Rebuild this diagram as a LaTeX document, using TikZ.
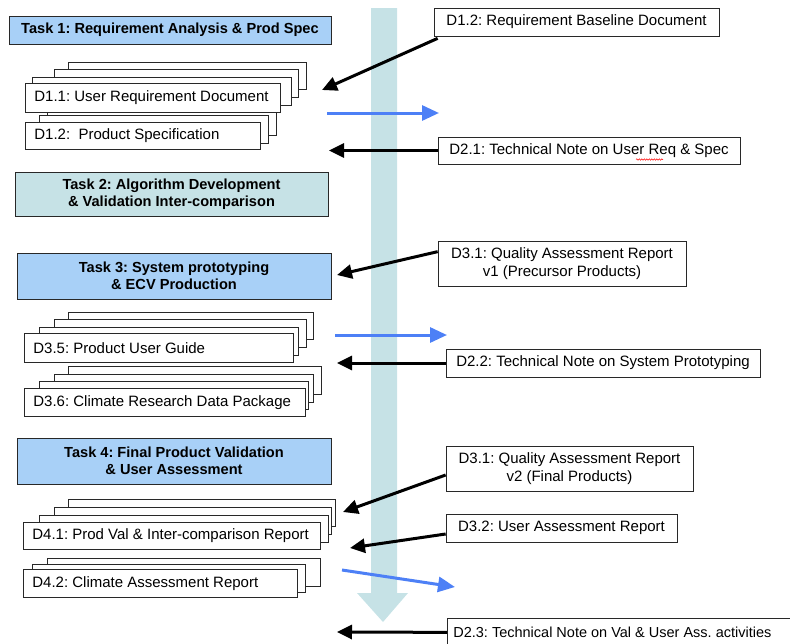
\documentclass[tikz,border=0pt]{standalone}
\usepackage{fontspec}
\setmainfont{Liberation Sans}
\usetikzlibrary{arrows.meta,decorations.pathmorphing}
\definecolor{band}{RGB}{198,226,230}
\definecolor{tasklb}{RGB}{168,208,247}
\definecolor{taskteal}{RGB}{198,226,230}
\definecolor{bluearr}{RGB}{77,128,246}
\definecolor{edge}{RGB}{40,40,40}
\frenchspacing
\begin{document}
\begin{tikzpicture}[x=1pt,y=-1pt,
  task/.style={draw=edge, line width=0.9pt, font=\fontsize{14.6}{17}\selectfont\bfseries, align=center, inner sep=0pt},
  back/.style={draw=edge, fill=white, line width=0.7pt},
  docbox/.style={draw=edge, fill=white, line width=0.7pt, anchor=north west, inner xsep=9pt, inner ysep=0pt, font=\fontsize{15}{17}\selectfont},
  note/.style={draw=edge, fill=white, line width=0.7pt, align=center, inner sep=0pt, font=\fontsize{15}{17.5}\selectfont},
  blk/.style={line width=3pt, -{Triangle[length=15pt,width=14pt]}},
  blu/.style={draw=bluearr, line width=3pt, -{Triangle[length=17pt,width=15pt]}}]
\useasboundingbox (0,0) rectangle (790,643);
% background timeline band
\fill[band] (371,8) -- (397,8) -- (397,593) -- (408,593) -- (383,622) -- (357,593) -- (371,593) -- cycle;
% Tasks
\node[task, fill=tasklb, minimum width=322pt, minimum height=28pt] (t1) at (170,30) {Task 1: Requirement Analysis \& Prod Spec};
\node[task, fill=taskteal, minimum width=313pt, minimum height=44pt] (t2) at (171.5,194) {Task 2: Algorithm Development\\\& Validation Inter-comparison};
\node[task, fill=tasklb, minimum width=314pt, minimum height=46pt] (t3) at (174,276) {Task 3: System prototyping\\\& ECV Production};
\node[task, fill=tasklb, minimum width=314pt, minimum height=46pt] (t4) at (174,461) {Task 4: Final Product Validation\\\& User Assessment};
% D1 stacks
\draw[back] (68,62) rectangle (306,89);
\draw[back] (54,69) rectangle (298,97);
\draw[back] (32,77) rectangle (291,105);
\draw[back] (47,107) rectangle (276,135);
\draw[back] (39,115) rectangle (268,143);
\node[docbox, minimum height=29pt] (d11) at (25,83) {\makebox[237pt][l]{D1.1: User Requirement Document}};
\node[docbox, minimum height=27pt] (d12) at (25,122) {\makebox[217pt][l]{D1.2:\ \ Product Specification}};
% D3 stacks
\draw[back] (68,312) rectangle (313,339);
\draw[back] (54,319) rectangle (306,347);
\draw[back] (39,327) rectangle (298,355);
\node[docbox, minimum height=29pt] (d35) at (24,333) {\makebox[251pt][l]{D3.5: Product User Guide}};
\draw[back] (68,366) rectangle (321,394);
\draw[back] (54,374) rectangle (313,402);
\draw[back] (39,381) rectangle (308,409);
\node[docbox, minimum height=28pt] (d36) at (24,388) {\makebox[263pt][l]{D3.6: Climate Research Data Package}};
% D4 stacks
\draw[back] (68,499) rectangle (335,526);
\draw[back] (54,507) rectangle (331,534);
\draw[back] (39,515) rectangle (328,542);
\node[docbox, minimum height=27pt] (d41) at (23,522) {\makebox[279pt][l]{D4.1: Prod Val \& Inter-comparison Report}};
\draw[back] (47,558) rectangle (320,586);
\draw[back] (32,564) rectangle (305,592);
\node[docbox, minimum height=28pt] (d42) at (23,569) {\makebox[256pt][l]{D4.2: Climate Assessment Report}};
% right-hand notes
\node[note, minimum width=285pt, minimum height=28pt] (r1) at (576.5,22) {D1.2: Requirement Baseline Document};
\node[note, minimum width=302pt, minimum height=27pt] (r2) at (589,150.5) {D2.1: Technical Note on User Req \& Spec};
\node[note, minimum width=248pt, minimum height=45pt] (r3) at (562,263.5) {D3.1: Quality Assessment Report\\v1 (Precursor Products)};
\node[note, minimum width=314pt, minimum height=28pt] (r4) at (603,363) {D2.2: Technical Note on System Prototyping};
\node[note, minimum width=247pt, minimum height=45pt] (r5) at (569.5,468.5) {D3.1: Quality Assessment Report\\v2 (Final Products)};
\node[note, minimum width=231pt, minimum height=28pt] (r6) at (561.5,528) {D3.2: User Assessment Report};
\node[docbox, inner xsep=6pt, minimum height=28pt, font=\fontsize{14.5}{17}\selectfont] (r7) at (447,618) {\makebox[360pt][l]{D2.3: Technical Note on Val \& User Ass. activities}};
% spell-check squiggle
\draw[red, line width=0.5pt, decorate, decoration={snake, amplitude=0.7pt, segment length=2.5pt}] (636,159.5) -- (663,159.5);
% free arrow ends
\coordinate (a1) at (322,90);
\coordinate (b1s) at (327,113);
\coordinate (b1e) at (439,113);
\coordinate (a2) at (329,150.5);
\coordinate (a3) at (337,275);
\coordinate (b2s) at (335,335);
\coordinate (b2e) at (447,335);
\coordinate (a4) at (337,363);
\coordinate (a5) at (343,512);
\coordinate (a6) at (350,548);
\coordinate (b3s) at (342,570);
\coordinate (b3e) at (455,587);
\coordinate (a7) at (337,632);
% arrows
\draw[blk] ([xshift=4pt,yshift=-2pt]r1.south west) -- (a1);
\draw[blu] (b1s) -- (b1e);
\draw[blk] (r2.west) -- (a2);
\draw[blk] ([yshift=-11pt]r3.north west) -- (a3);
\draw[blu] (b2s) -- (b2e);
\draw[blk] (r4.west) -- (a4);
\draw[blk] ([yshift=-6.5pt]r5.west) -- (a5);
\draw[blk] ([yshift=-6pt]r6.west) -- (a6);
\draw[blu] (b3s) -- (b3e);
\draw[blk] (r7.west) -- (a7);
\end{tikzpicture}
\end{document}
